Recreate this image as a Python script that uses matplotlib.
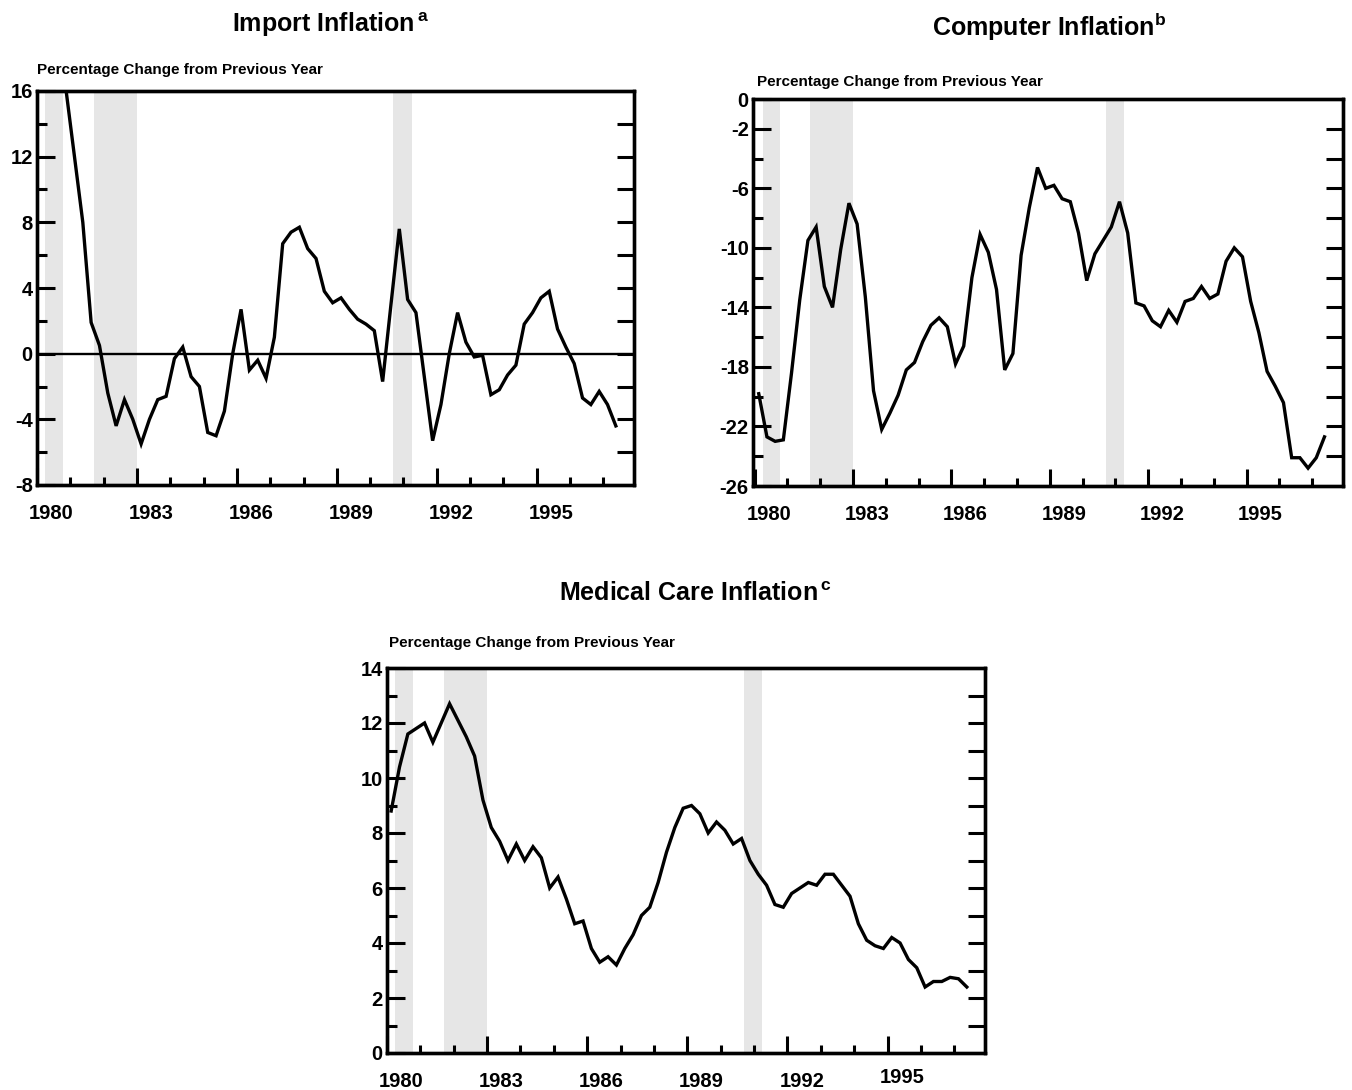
import numpy as np
import matplotlib.pyplot as plt

plt.rcParams['font.family'] = ['Liberation Sans', 'DejaVu Sans']
plt.rcParams['font.weight'] = 'bold'
plt.rcParams['mathtext.fontset'] = 'custom'
plt.rcParams['mathtext.bf'] = 'Liberation Sans:bold'
plt.rcParams['mathtext.rm'] = 'Liberation Sans:bold'

# quarterly series, 1980Q1 .. 1997Q2, percent change from previous year
start_year = 1980
import_infl = [16, 16, 16, 16,
               12, 8.0, 1.9, 0.5,
               -2.4, -4.4, -2.8, -4.0,
               -5.5, -4.0, -2.8, -2.6,
               -0.3, 0.4, -1.4, -2.0,
               -4.8, -5.0, -3.5, 0.0,
               2.7, -1.0, -0.4, -1.5,
               1.0, 6.7, 7.4, 7.7,
               6.4, 5.8, 3.8, 3.1,
               3.4, 2.7, 2.1, 1.8,
               1.4, -1.7, 3.0, 7.6,
               3.3, 2.5, -1.4, -5.3,
               -3.1, 0.0, 2.5, 0.7,
               -0.2, -0.1, -2.5, -2.2,
               -1.3, -0.7, 1.8, 2.5,
               3.4, 3.8, 1.5, 0.4,
               -0.6, -2.7, -3.1, -2.3,
               -3.1, -4.4]
computer_infl = [-19.8, -22.7, -23.0, -22.9,
                 -18.4, -13.5, -9.5, -8.6,
                 -12.6, -14.0, -10.1, -7.0,
                 -8.4, -13.3, -19.6, -22.2,
                 -21.1, -19.9, -18.2, -17.7,
                 -16.3, -15.2, -14.7, -15.3,
                 -17.8, -16.6, -12.0, -9.1,
                 -10.3, -12.8, -18.2, -17.1,
                 -10.5, -7.3, -4.6, -6.0,
                 -5.8, -6.7, -6.9, -9.0,
                 -12.2, -10.4, -9.5, -8.6,
                 -6.9, -9.0, -13.7, -13.9,
                 -14.9, -15.3, -14.2, -15.0,
                 -13.6, -13.4, -12.6, -13.4,
                 -13.1, -10.9, -10.0, -10.6,
                 -13.6, -15.7, -18.3, -19.3,
                 -20.4, -24.1, -24.1, -24.8,
                 -24.1, -22.7]
medical_infl = [8.8, 10.4, 11.6, 11.8,
                12.0, 11.3, 12.0, 12.7,
                12.1, 11.5, 10.8, 9.2,
                8.2, 7.7, 7.0, 7.6,
                7.0, 7.5, 7.1, 6.0,
                6.4, 5.6, 4.7, 4.8,
                3.8, 3.3, 3.5, 3.2,
                3.8, 4.3, 5.0, 5.3,
                6.2, 7.3, 8.2, 8.9,
                9.0, 8.7, 8.0, 8.4,
                8.1, 7.6, 7.8, 7.0,
                6.5, 6.1, 5.4, 5.3,
                5.8, 6.0, 6.2, 6.1,
                6.5, 6.5, 6.1, 5.7,
                4.7, 4.1, 3.9, 3.8,
                4.2, 4.0, 3.4, 3.1,
                2.4, 2.6, 2.6, 2.75,
                2.7, 2.4]

recessions = [(1980.25, 1980.77), (1981.7, 1983.0), (1990.7, 1991.25)]
year_labels = [1980, 1983, 1986, 1989, 1992, 1995]

dates = start_year + (np.arange(len(import_infl)) + 0.5) / 4

W, H = 1352, 1090
fig = plt.figure(figsize=(W / 100, H / 100), dpi=100)


def panel(box, values, ylim, major, minor, right, raise_1995=False):
    l, t, r, b = box
    ax = fig.add_axes([l / W, 1 - b / H, (r - l) / W, (b - t) / H])
    for a, e in recessions:
        ax.axvspan(a, e, color='#e6e6e6', lw=0, zorder=0)
    ax.plot(dates, values, color='k', lw=2.4, zorder=3, solid_joinstyle='miter')
    ax.set_xlim(1980, 1997.92)
    ax.set_ylim(*ylim)
    ax.set_yticks(major)
    ax.set_yticks(minor, minor=True)
    ax.set_yticklabels([str(v) for v in major])
    ax.set_xticks(year_labels)
    ax.set_xticks(range(1980, 1998), minor=True)
    ax.set_xticklabels([])
    ax.tick_params(axis='y', which='major', direction='in', length=13, width=2.2,
                   labelsize=14.5, pad=3)
    ax.tick_params(axis='y', which='minor', direction='in', length=7, width=2.2)
    ax.tick_params(axis='x', which='major', direction='in', length=12, width=2.2)
    ax.tick_params(axis='x', which='minor', direction='in', length=6, width=2.2)
    for s in ax.spines.values():
        s.set_linewidth(2.4)
    for yr in year_labels:
        dy = -10.5 if (raise_1995 and yr == 1995) else -14
        ax.annotate(str(yr), xy=(yr + 0.43, 0), xycoords=('data', 'axes fraction'),
                    xytext=(0, dy), textcoords='offset points', ha='center', va='top',
                    fontsize=14.5, fontweight='bold')
    tw = ax.twinx()
    tw.set_ylim(*ylim)
    tw.set_yticks(right)
    tw.tick_params(axis='y', direction='in', length=12, width=2.2, labelright=False)
    for s in tw.spines.values():
        s.set_linewidth(2.4)
    return ax


ax1 = panel((37, 91, 634, 485), import_infl, (-8, 16),
            [16, 12, 8, 4, 0, -4, -8], [14, 10, 6, 2, -2, -6],
            [14, 12, 10, 8, 6, 4, 2, 0, -2, -4, -6])
ax1.axhline(0, color='k', lw=1.7, zorder=2)

ax2 = panel((753, 99, 1343, 486), computer_infl, (-26, 0),
            [0, -2, -6, -10, -14, -18, -22, -26], [-4, -8, -12, -16, -20, -24],
            list(range(-2, -25, -2)))
ax2.set_xlim(1979.95, 1997.94)

ax3 = panel((387, 668, 985, 1053), medical_infl, (0, 14),
            list(range(0, 15, 2)), list(range(1, 14, 2)),
            list(range(1, 14)), raise_1995=True)

sub = 'Percentage Change from Previous Year'
fig.text(331 / W, 1 - 25 / H, r'Import Inflation$^{\,\mathbf{a}}$', ha='center', va='center',
         fontsize=18, fontweight='bold')
fig.text(1049 / W, 1 - 27 / H, r'Computer Inflation$^{\mathbf{b}}$', ha='center', va='center',
         fontsize=18, fontweight='bold')
fig.text(695 / W, 1 - 594 / H, r'Medical Care Inflation$^{\,\mathbf{c}}$', ha='center', va='center',
         fontsize=18, fontweight='bold')
fig.text(37 / W, 1 - 70 / H, sub, ha='left', va='center', fontsize=11, fontweight='bold')
fig.text(757 / W, 1 - 82 / H, sub, ha='left', va='center', fontsize=11, fontweight='bold')
fig.text(389 / W, 1 - 643 / H, sub, ha='left', va='center', fontsize=11, fontweight='bold')

fig.savefig('out.png', dpi=100)
